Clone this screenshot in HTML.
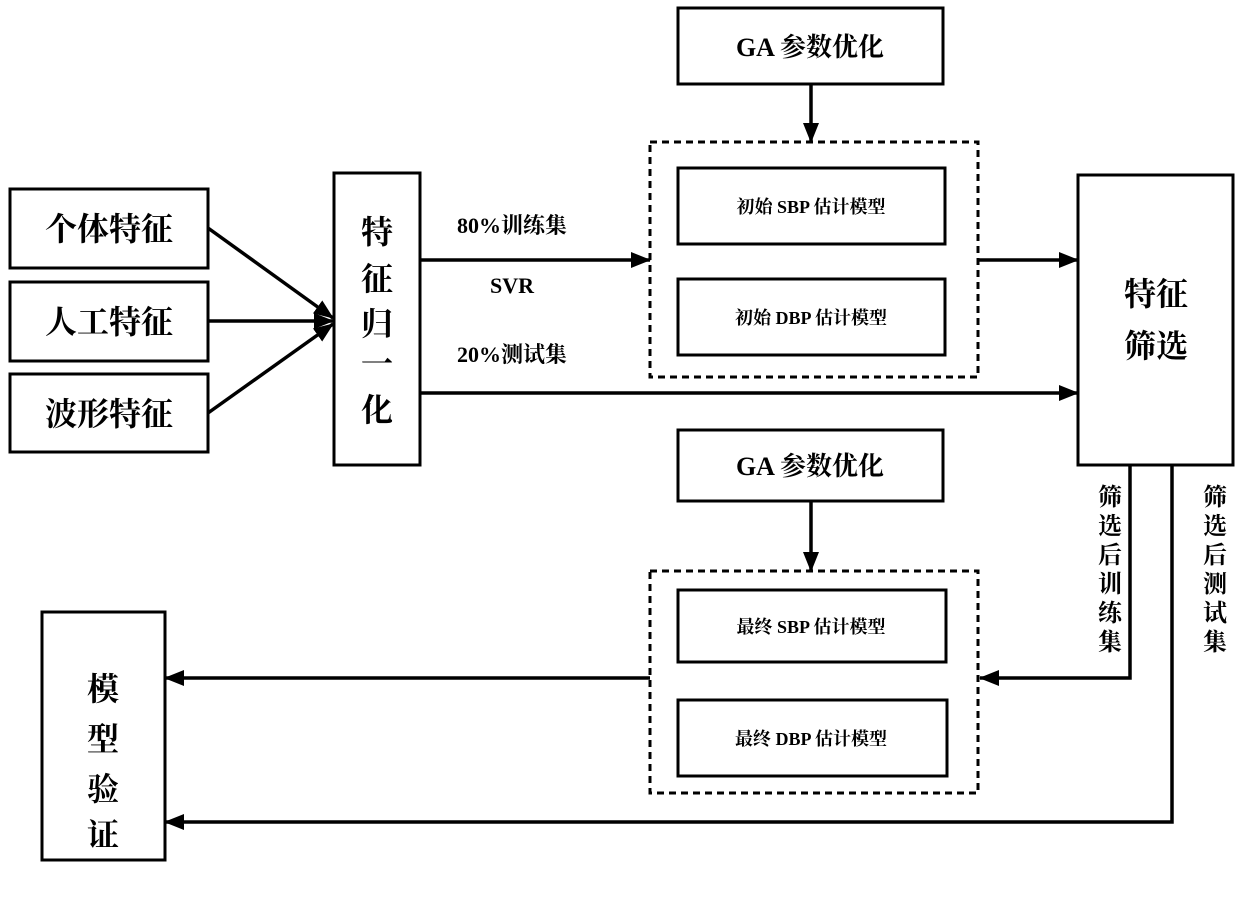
<!DOCTYPE html>
<html><head><meta charset="utf-8"><style>
body{margin:0;background:#fff;}
svg text{font-family:"Liberation Serif","Noto Serif CJK SC","Noto Sans CJK SC",serif;fill:#000;}
</style></head><body>
<svg width="1239" height="892" viewBox="0 0 1239 892" xmlns="http://www.w3.org/2000/svg">
<defs>
<marker id="b" markerWidth="20" markerHeight="16" refX="19" refY="8" orient="auto" markerUnits="userSpaceOnUse"><path d="M0,0 L20,8 L0,16 z" fill="#000"/></marker></defs>
<g fill="none" stroke="#000" stroke-width="3">
<rect x="10" y="189" width="198" height="79"/>
<rect x="10" y="282" width="198" height="79"/>
<rect x="10" y="374" width="198" height="78"/>
<rect x="334" y="173" width="86" height="292"/>
<rect x="678" y="8" width="265" height="76"/>
<rect x="678" y="168" width="267" height="76"/>
<rect x="678" y="279" width="267" height="76"/>
<rect x="1078" y="175" width="155" height="290"/>
<rect x="678" y="430" width="265" height="71"/>
<rect x="678" y="590" width="268" height="72"/>
<rect x="678" y="700" width="269" height="76"/>
<rect x="42" y="612" width="123" height="248"/>
<rect x="650" y="142" width="328" height="235" stroke-dasharray="7,5"/>
<rect x="650" y="571" width="328" height="222" stroke-dasharray="7,5"/>
</g>
<g stroke="#000" stroke-width="3.5" fill="none" marker-end="url(#b)">
<line x1="208" y1="228" x2="333" y2="318"/>
<line x1="208" y1="321" x2="333" y2="321"/>
<line x1="208" y1="413" x2="333" y2="324"/>
<line x1="420" y1="260" x2="650" y2="260"/>
<line x1="420" y1="393" x2="1078" y2="393"/>
<line x1="811" y1="84" x2="811" y2="142"/>
<line x1="978" y1="260" x2="1078" y2="260"/>
<line x1="811" y1="501" x2="811" y2="571"/>
<polyline points="1130,465 1130,678 980,678"/>
<line x1="650" y1="678" x2="165" y2="678"/>
<polyline points="1172,465 1172,822 165,822"/>
</g>
<g font-size="32" font-weight="bold" text-anchor="middle" font-family="'Liberation Sans','Noto Sans CJK SC',sans-serif">
<text x="109" y="240">个体特征</text>
<text x="109" y="333">人工特征</text>
<text x="109" y="425">波形特征</text>
<text x="377" y="243">特</text><text x="377" y="290">征</text><text x="377" y="335">归</text><text x="377" y="375">一</text><text x="377" y="421">化</text>
<text x="1156" y="305">特征</text><text x="1156" y="357">筛选</text>
<text x="103" y="700">模</text><text x="103" y="750">型</text><text x="103" y="800">验</text><text x="103" y="846">证</text>
</g>
<g font-size="26" font-weight="bold" text-anchor="middle">
<text x="810" y="56">GA 参数优化</text>
<text x="810" y="475">GA 参数优化</text>
</g>
<g font-size="22" font-weight="bold" text-anchor="middle">
<text x="512" y="233">80%训练集</text>
<text x="512" y="293">SVR</text>
<text x="512" y="362">20%测试集</text>
</g>
<g font-size="18" font-weight="bold" text-anchor="middle">
<text x="811" y="213">初始 SBP 估计模型</text>
<text x="811" y="324">初始 DBP 估计模型</text>
<text x="811" y="633">最终 SBP 估计模型</text>
<text x="811" y="745">最终 DBP 估计模型</text>
</g>
<g font-size="24" font-weight="bold" text-anchor="middle" font-family="'Liberation Sans','Noto Sans CJK SC',sans-serif">
<text x="1110" y="505">筛</text><text x="1110" y="534">选</text><text x="1110" y="563">后</text><text x="1110" y="592">训</text><text x="1110" y="621">练</text><text x="1110" y="650">集</text>
<text x="1215" y="505">筛</text><text x="1215" y="534">选</text><text x="1215" y="563">后</text><text x="1215" y="592">测</text><text x="1215" y="621">试</text><text x="1215" y="650">集</text>
</g>
</svg>
</body></html>
